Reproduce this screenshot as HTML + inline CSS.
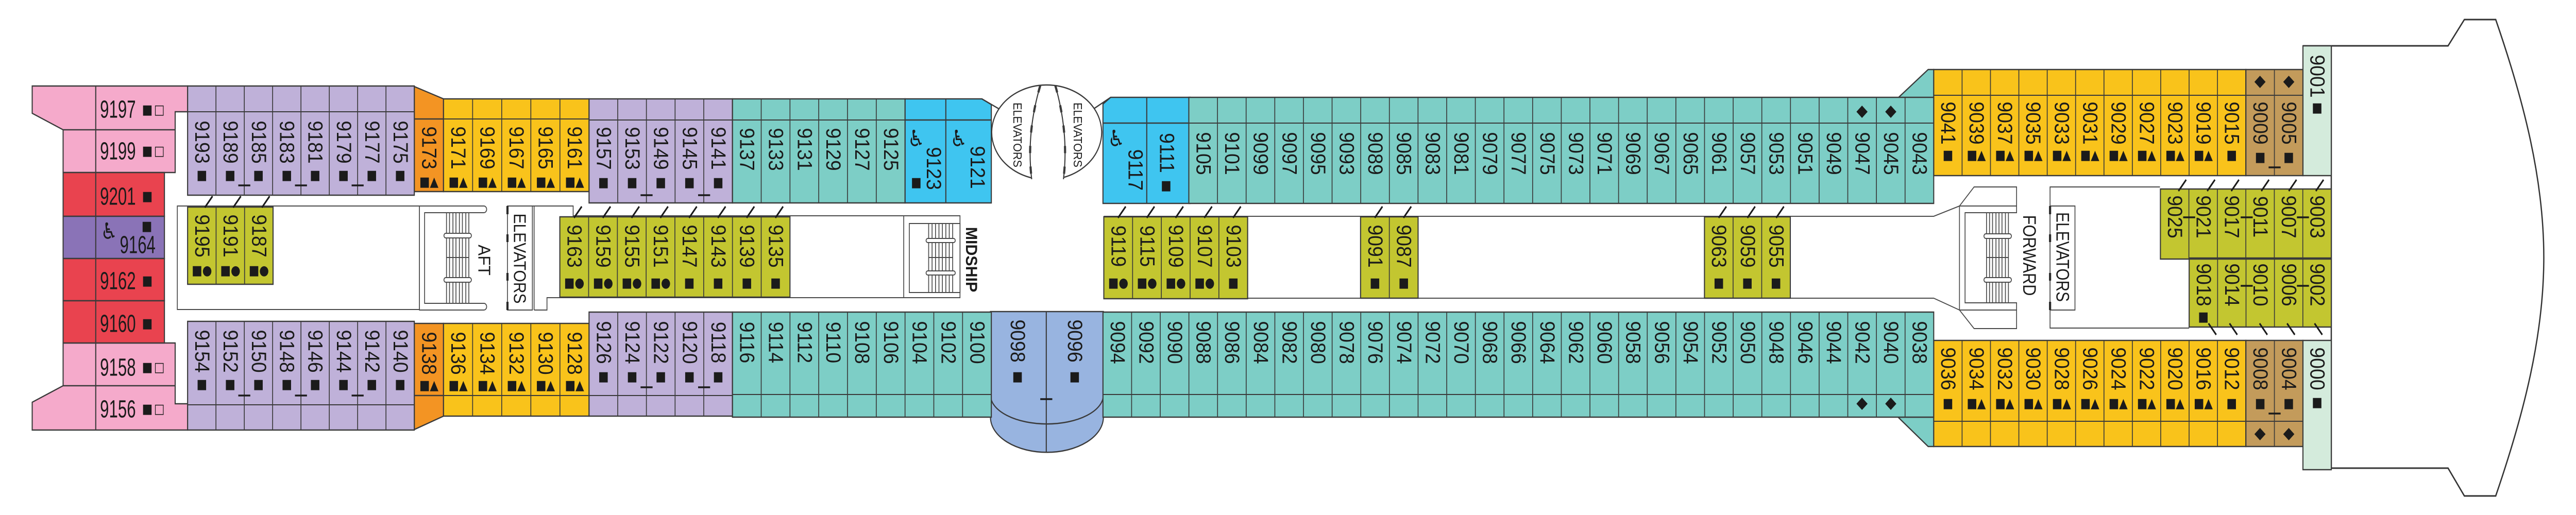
<!DOCTYPE html>
<html><head><meta charset="utf-8"><style>
html,body{margin:0;padding:0;width:100%;height:100%;overflow:hidden;background:#fff}
svg{display:block;width:100%;height:100%}
text{font-family:"Liberation Sans",Arial,sans-serif;fill:#1b1b1b}
.n text{font-size:48px;text-anchor:middle;dominant-baseline:central}
.s text,text.s{font-family:"DejaVu Sans",sans-serif;font-size:26px;text-anchor:middle;dominant-baseline:central}
.h text{font-size:48px;dominant-baseline:central}
text.c{text-anchor:middle;dominant-baseline:central}
</style></head><body>
<svg xmlns="http://www.w3.org/2000/svg" viewBox="0 0 6000 1000" preserveAspectRatio="none">
<rect x="0" y="0" width="6000" height="1000" fill="#fff"/>
<!-- stern, orange, blue, ellipse, periwinkle, chamfers -->
<g stroke="#3a3a3a" stroke-width="2.5">
<polygon points="75,167 437,167 437,217 408,217 408,335 147,335 147,252 75,220" fill="#F5AACB"/>
<polygon points="147,666 408,666 408,784 437,784 437,835 75,835 75,781 147,749" fill="#F5AACB"/>
<rect x="147" y="335" width="236" height="85" fill="#E9434F"/>
<rect x="147" y="420" width="236" height="82" fill="#8A73B7"/>
<rect x="147" y="502" width="236" height="82" fill="#E9434F"/>
<rect x="147" y="584" width="236" height="82" fill="#E9434F"/>
<path d="M223,167V835M147,252H408M147,749H408" fill="none"/>
<polygon points="965,168 1033,192 1033,372 965,372" fill="#F39423"/>
<polygon points="965,628 1033,628 1033,808 965,834" fill="#F39423"/>
<path d="M965,231H1033M965,768H1033" fill="none"/>
<polygon points="2108,192 2287,192 2309,203 2309,394 2108,394" fill="#3FC5F0"/>
<polygon points="2569,202 2587,189 2772,189 2772,395 2569,395" fill="#3FC5F0"/>
<path d="M2203,192V394M2108,233H2309M2671,189V395M2569,239H2772M2287,192L2328,212M2587,189L2548,211" fill="none"/>
<path d="M2403,345.5A128,92 0 1 1 2477,344.6" fill="#fff"/>
<path d="M2423,166Q2390,260 2403,348M2458,166Q2490,260 2477,348" fill="none"/>
<path d="M2423,166Q2390,260 2403,348M2458,166Q2490,260 2477,348" fill="none" stroke-width="5" stroke-dasharray="14 26"/>
<path d="M2307,605H2570V810A131,68 0 0 1 2307,810Z" fill="#98B4E0"/>
<path d="M2307,767A131,56 0 0 0 2570,767M2437,605V878" fill="none"/>
<polygon points="4421,190 4491,135 4504,135 4504,190" fill="#7DCEC6"/>
<polygon points="4421,810 4491,867 4504,867 4504,810" fill="#7DCEC6"/>
</g>
<!-- corridors, stairs, lobbies -->
<g stroke="#4a4a4a" stroke-width="2" fill="none">
<rect x="413" y="400" width="564" height="201"/>
<path d="M977,400H1127A6.5,6.5 0 0 1 1127,413H989V589H1127A6.5,6.5 0 0 1 1127,602H977Z"/>
<path d="M1040,413V589M1047,413V589M1055,413V589M1062,413V589M1070,413V589M1077,413V589M1085,413V589M1092,413V589M1040,500H1092"/>
<rect x="1034" y="453" width="64" height="9" rx="4.5" fill="#fff"/>
<rect x="1034" y="539" width="64" height="9" rx="4.5" fill="#fff"/>
<rect x="1182" y="400" width="58" height="202"/>
<path d="M1244,400V602M1240,400H1335V419H2105M1244,602H1274V578H2105"/>
<rect x="2105" y="419" width="131" height="159"/>
<rect x="2118" y="434" width="118" height="134"/>
<path d="M2163,434V568M2171,434V568M2179,434V568M2187,434V568M2195,434V568M2203,434V568M2211,434V568M2219,434V568M2163,500H2219"/>
<rect x="2157" y="463" width="68" height="8" rx="4" fill="#fff"/>
<rect x="2157" y="526" width="68" height="8" rx="4" fill="#fff"/>
<path d="M2571,420H4504L4564,400M2571,579H4504L4564,602"/>
<path d="M4564,400L4598,363H4697V413H4577V588H4697V638H4598L4564,602ZM4564,400H4697M4564,602H4697"/>
<path d="M4627,413V588M4634,413V588M4641,413V588M4649,413V588M4656,413V588M4663,413V588M4671,413V588M4678,413V588M4627,500H4678"/>
<rect x="4621" y="454" width="64" height="9" rx="4.5" fill="#fff"/>
<rect x="4621" y="539" width="64" height="9" rx="4.5" fill="#fff"/>
<path d="M5031,363H4775V637H5099"/>
<rect x="4775" y="400" width="58" height="202"/>
</g>
<path d="M1182,400V416M1182,586V602M4775,400V416M4775,586V602M1182,455V470M1182,530V545M4775,455V470M4775,530V545" stroke="#2a2a2a" stroke-width="5" fill="none"/>
<path d="M5364,89H5702L5740,38H5813C5880,200 5925,350 5925,500C5925,650 5880,800 5813,963H5740L5702,909H5364M5430,89V909" fill="none" stroke="#333" stroke-width="3"/>

<!-- block fills -->
<g stroke="none">
<rect x="437" y="167" width="528" height="212" fill="#BFB1D9"/>
<rect x="437" y="624" width="528" height="211" fill="#BFB1D9"/>
<rect x="1033" y="192" width="339" height="180" fill="#F9C31B"/>
<rect x="1033" y="628" width="339" height="180" fill="#F9C31B"/>
<rect x="1372" y="192" width="334" height="202" fill="#BFB1D9"/>
<rect x="1372" y="606" width="334" height="202" fill="#BFB1D9"/>
<rect x="1706" y="192" width="402" height="202" fill="#7DCEC6"/>
<rect x="1706" y="606" width="603" height="204" fill="#7DCEC6"/>
<rect x="2769" y="189" width="1735" height="206" fill="#7DCEC6"/>
<rect x="2569" y="606" width="1935" height="204" fill="#7DCEC6"/>
<rect x="4504" y="135" width="727" height="206" fill="#F9C31B"/>
<rect x="5231" y="135" width="133" height="206" fill="#C39B5B"/>
<rect x="5364" y="89" width="66" height="252" fill="#D4EBDC"/>
<rect x="4504" y="661" width="727" height="206" fill="#F9C31B"/>
<rect x="5231" y="661" width="133" height="206" fill="#C39B5B"/>
<rect x="5364" y="661" width="66" height="251" fill="#D4EBDC"/>
<g fill="#C3C630">
<rect x="437" y="402" width="199" height="150"/>
<rect x="1304" y="421" width="536" height="156"/>
<rect x="2571" y="421" width="335" height="159"/>
<rect x="3169" y="421" width="134" height="158"/>
<rect x="3970" y="421" width="200" height="158"/>
<rect x="5032" y="367" width="398" height="136"/>
<rect x="5099" y="501" width="331" height="134"/>
</g>
</g>
<!-- cell dividers (dashed thick lines = vertical bars) -->
<g stroke="#3a3a3a" fill="none">
<line x1="436" y1="273" x2="965" y2="273" stroke-width="212" stroke-dasharray="2 64"/>
<line x1="436" y1="729.5" x2="965" y2="729.5" stroke-width="211" stroke-dasharray="2 64"/>
<line x1="1032" y1="282" x2="1372" y2="282" stroke-width="180" stroke-dasharray="2 65.8"/>
<line x1="1032" y1="718" x2="1372" y2="718" stroke-width="180" stroke-dasharray="2 65.8"/>
<line x1="1371" y1="293" x2="1706" y2="293" stroke-width="202" stroke-dasharray="2 64.8"/>
<line x1="1371" y1="707" x2="1706" y2="707" stroke-width="202" stroke-dasharray="2 64.8"/>
<line x1="1705" y1="293" x2="2108" y2="293" stroke-width="202" stroke-dasharray="2 65"/>
<line x1="1705" y1="708" x2="2309" y2="708" stroke-width="204" stroke-dasharray="2 65"/>
<line x1="2768" y1="292" x2="4504" y2="292" stroke-width="206" stroke-dasharray="2 64.731"/>
<line x1="2568" y1="708" x2="4504" y2="708" stroke-width="204" stroke-dasharray="2 64.724"/>
<line x1="4503" y1="238" x2="5231" y2="238" stroke-width="206" stroke-dasharray="2 64.09"/>
<line x1="4503" y1="764" x2="5231" y2="764" stroke-width="206" stroke-dasharray="2 64.09"/>
<line x1="5230" y1="238" x2="5364" y2="238" stroke-width="206" stroke-dasharray="2 64.5"/>
<line x1="5230" y1="764" x2="5364" y2="764" stroke-width="206" stroke-dasharray="2 64.5"/>
<line x1="436" y1="477" x2="636" y2="477" stroke-width="150" stroke-dasharray="2 64.33"/>
<line x1="1303" y1="499" x2="1840" y2="499" stroke-width="156" stroke-dasharray="2 65"/>
<line x1="2570" y1="500.5" x2="2906" y2="500.5" stroke-width="159" stroke-dasharray="2 65"/>
<line x1="3168" y1="500" x2="3303" y2="500" stroke-width="158" stroke-dasharray="2 65"/>
<line x1="3969" y1="500" x2="4170" y2="500" stroke-width="158" stroke-dasharray="2 64.67"/>
<line x1="5031" y1="435" x2="5430" y2="435" stroke-width="136" stroke-dasharray="2 64.33"/>
<line x1="5098" y1="568" x2="5430" y2="568" stroke-width="134" stroke-dasharray="2 64.2"/>
<path stroke-width="2" d="M437,217H965M437,786H965M1033,231H1372M1033,768H1372M1372,233H1706M1372,768H1706M1706,233H2108M1706,766H2309M2769,239H4504M2569,766H4504M4504,185H5364M4504,818H5364"/>
</g>
<!-- block outlines -->
<g stroke="#3a3a3a" stroke-width="2.5" fill="none">
<rect x="437" y="167" width="528" height="212"/>
<rect x="437" y="624" width="528" height="211"/>
<rect x="1033" y="192" width="339" height="180"/>
<rect x="1033" y="628" width="339" height="180"/>
<rect x="1372" y="192" width="334" height="202"/>
<rect x="1372" y="606" width="334" height="202"/>
<rect x="1706" y="192" width="402" height="202"/>
<rect x="1706" y="606" width="603" height="204"/>
<rect x="2769" y="189" width="1735" height="206"/>
<rect x="2569" y="606" width="1935" height="204"/>
<rect x="4504" y="135" width="727" height="206"/>
<rect x="5231" y="135" width="133" height="206"/>
<rect x="5364" y="89" width="66" height="252"/>
<rect x="4504" y="661" width="727" height="206"/>
<rect x="5231" y="661" width="133" height="206"/>
<rect x="5364" y="661" width="66" height="251"/>
<rect x="437" y="402" width="199" height="150"/>
<rect x="1304" y="421" width="536" height="156"/>
<rect x="2571" y="421" width="335" height="159"/>
<rect x="3169" y="421" width="134" height="158"/>
<rect x="3970" y="421" width="200" height="158"/>
<rect x="5032" y="367" width="398" height="136"/>
<rect x="5099" y="501" width="331" height="134"/>
</g>

<!-- marks -->
<g stroke="#1b1b1b" stroke-width="3.5" fill="none">
<path d="M555,360h28M687,360h28M819,360h28M555,768h28M687,768h28M819,768h28M1492,379h28M1626,379h28M1492,752h28M1626,752h28M5284,325h28M5284,803h28M2423,775h28M5085,422h28M5219,422h28M5350,422h28M5219,555h28M5350,555h28"/>
<path d="M477,403l18,-22M543,403l18,-22M610,403l18,-22M1337,423l18,-22M1404,423l18,-22M1471,423l18,-22M1538,423l18,-22M1605,423l18,-22M1672,423l18,-22M1739,423l18,-22M1806,423l18,-22M2604,423l18,-22M2671,423l18,-22M2738,423l18,-22M2805,423l18,-22M2872,423l18,-22M3202,423l18,-22M3269,423l18,-22M4003,423l18,-22M4070,423l18,-22M4137,423l18,-22M5074,371l18,-22M5141,371l18,-22M5197,371l18,-22M5267,371l18,-22M5331,371l18,-22M5394,371l18,-22M5144,628l18,22M5193,628l18,22M5263,628l18,22M5327,628l18,22M5391,628l18,22"/>
</g>
<path fill="#1b1b1b" d="M4324,217l13,-12l13,12l-13,12zM4391,217l13,-12l13,12l-13,12zM4324,784l13,-12l13,12l-13,12zM4391,784l13,-12l13,12l-13,12zM5251,159l13,-12l13,12l-13,12zM5318,159l13,-12l13,12l-13,12zM5251,843l13,-12l13,12l-13,12zM5318,843l13,-12l13,12l-13,12z"/>

<!-- stern labels -->
<g class="h">
<text transform="translate(233,212) scale(.78,1)">9197</text>
<text transform="translate(233,293) scale(.78,1)">9199</text>
<text transform="translate(233,381) scale(.78,1)">9201</text>
<text transform="translate(279,475) scale(.78,1)">9164</text>
<text transform="translate(233,545) scale(.78,1)">9162</text>
<text transform="translate(233,628) scale(.78,1)">9160</text>
<text transform="translate(233,713) scale(.78,1)">9158</text>
<text transform="translate(233,794) scale(.78,1)">9156</text>
</g>
<g class="s">
<text x="343" y="213">■</text><text x="371" y="213">□</text>
<text x="343" y="293">■</text><text x="371" y="293">□</text>
<text x="343" y="381">■</text>
<text x="342" y="439">■</text>
<text x="343" y="545">■</text>
<text x="343" y="628">■</text>
<text x="343" y="713">■</text><text x="371" y="713">□</text>
<text x="343" y="794">■</text><text x="371" y="794">□</text>
<text x="254" y="449" style="font-size:44px">♿</text>
<text x="2134" y="269" style="font-size:44px">♿</text>
<text x="2233" y="269" style="font-size:44px">♿</text>
<text x="2600" y="269" style="font-size:44px">♿</text>
<text x="2134" y="354">■</text>
<text x="2716" y="360">■</text>
<text x="2370" y="731">■</text>
<text x="2503" y="731">■</text>
<text x="999" y="353">■▲</text>
<text x="999" y="748">■▲</text>
<text x="5397" y="209">■</text>
<text x="5397" y="781">■</text>
<text x="5132" y="615">■</text>
</g>

<!-- free rotated numbers -->
<g class="n">
<text transform="translate(999,287) rotate(90) scale(.78,1)">9173</text>
<text transform="translate(999,686) rotate(90) scale(.78,1)">9138</text>
<text transform="translate(2174,327) rotate(90) scale(.78,1)">9123</text>
<text transform="translate(2276,325) rotate(90) scale(.78,1)">9121</text>
<text transform="translate(2644,330) rotate(90) scale(.78,1)">9117</text>
<text transform="translate(2717,297) rotate(90) scale(.78,1)">9111</text>
<text transform="translate(2370,662) rotate(90) scale(.78,1)">9098</text>
<text transform="translate(2503,662) rotate(90) scale(.78,1)">9096</text>
<text transform="translate(5397,148) rotate(90) scale(.78,1)">9001</text>
<text transform="translate(5397,716) rotate(90) scale(.78,1)">9000</text>
</g>

<!-- captions -->
<text class="c" font-size="28" transform="translate(2370,262) rotate(90) scale(.77,1)">ELEVATORS</text>
<text class="c" font-size="28" transform="translate(2510,262) rotate(90) scale(.77,1)">ELEVATORS</text>
<text class="c" font-size="40" transform="translate(1211,502) rotate(90) scale(.75,1)">ELEVATORS</text>
<text class="c" font-size="40" transform="translate(1128,505) rotate(90) scale(.79,1)">AFT</text>
<text class="c" font-size="38" font-weight="bold" transform="translate(2263,504) rotate(90) scale(.8,1)">MIDSHIP</text>
<text class="c" font-size="42" transform="translate(4727,496) rotate(90) scale(.73,1)">FORWARD</text>
<text class="c" font-size="42" transform="translate(4804,499) rotate(90) scale(.71,1)">ELEVATORS</text>

<!-- A lavender left top -->
<g class="n" transform="translate(470,276) rotate(90) scale(.78,1)">
<text y="0">9193</text><text y="-66">9189</text><text y="-132">9185</text><text y="-198">9183</text><text y="-264">9181</text><text y="-330">9179</text><text y="-396">9177</text><text y="-462">9175</text></g>
<g class="s" transform="translate(470,340)"><text x="0">■</text><text x="66">■</text><text x="132">■</text><text x="198">■</text><text x="264">■</text><text x="330">■</text><text x="396">■</text><text x="462">■</text></g>
<!-- B lavender left bottom -->
<g class="n" transform="translate(470,682) rotate(90) scale(.78,1)">
<text y="0">9154</text><text y="-66">9152</text><text y="-132">9150</text><text y="-198">9148</text><text y="-264">9146</text><text y="-330">9144</text><text y="-396">9142</text><text y="-462">9140</text></g>
<g class="s" transform="translate(470,746)"><text x="0">■</text><text x="66">■</text><text x="132">■</text><text x="198">■</text><text x="264">■</text><text x="330">■</text><text x="396">■</text><text x="462">■</text></g>
<!-- E yellow aft top -->
<g class="n" transform="translate(1066.9,287) rotate(90) scale(.78,1)">
<text y="0">9171</text><text y="-67.8">9169</text><text y="-135.6">9167</text><text y="-203.4">9165</text><text y="-271.2">9161</text></g>
<g class="s" transform="translate(1066.9,353)"><text x="0">■▲</text><text x="67.8">■▲</text><text x="135.6">■▲</text><text x="203.4">■▲</text><text x="271.2">■▲</text></g>
<!-- F yellow aft bottom -->
<g class="n" transform="translate(1066.9,686) rotate(90) scale(.78,1)">
<text y="0">9136</text><text y="-67.8">9134</text><text y="-135.6">9132</text><text y="-203.4">9130</text><text y="-271.2">9128</text></g>
<g class="s" transform="translate(1066.9,748)"><text x="0">■▲</text><text x="67.8">■▲</text><text x="135.6">■▲</text><text x="203.4">■▲</text><text x="271.2">■▲</text></g>
<!-- G lavender mid top -->
<g class="n" transform="translate(1405.4,288) rotate(90) scale(.78,1)">
<text y="0">9157</text><text y="-66.8">9153</text><text y="-133.6">9149</text><text y="-200.4">9145</text><text y="-267.2">9141</text></g>
<g class="s" transform="translate(1405.4,354)"><text x="0">■</text><text x="66.8">■</text><text x="133.6">■</text><text x="200.4">■</text><text x="267.2">■</text></g>
<!-- H lavender mid bottom -->
<g class="n" transform="translate(1405.4,665) rotate(90) scale(.78,1)">
<text y="0">9126</text><text y="-66.8">9124</text><text y="-133.6">9122</text><text y="-200.4">9120</text><text y="-267.2">9118</text></g>
<g class="s" transform="translate(1405.4,731)"><text x="0">■</text><text x="66.8">■</text><text x="133.6">■</text><text x="200.4">■</text><text x="267.2">■</text></g>
<!-- I teal top A -->
<g class="n" transform="translate(1739.5,290) rotate(90) scale(.78,1)">
<text y="0">9137</text><text y="-67">9133</text><text y="-134">9131</text><text y="-201">9129</text><text y="-268">9127</text><text y="-335">9125</text></g>
<!-- J teal bottom A -->
<g class="n" transform="translate(1739.5,665) rotate(90) scale(.78,1)">
<text y="0">9116</text><text y="-67">9114</text><text y="-134">9112</text><text y="-201">9110</text><text y="-268">9108</text><text y="-335">9106</text><text y="-402">9104</text><text y="-469">9102</text><text y="-536">9100</text></g>
<!-- N teal top B -->
<g class="n" transform="translate(2802.4,298) rotate(90) scale(.78,1)">
<text y="0">9105</text><text y="-66.7">9101</text><text y="-133.5">9099</text><text y="-200.2">9097</text><text y="-266.9">9095</text><text y="-333.7">9093</text><text y="-400.4">9089</text><text y="-467.1">9085</text><text y="-533.8">9083</text><text y="-600.6">9081</text><text y="-667.3">9079</text><text y="-734">9077</text><text y="-800.8">9075</text><text y="-867.5">9073</text><text y="-934.2">9071</text><text y="-1001">9069</text><text y="-1067.7">9067</text><text y="-1134.4">9065</text><text y="-1201.2">9061</text><text y="-1267.9">9057</text><text y="-1334.6">9053</text><text y="-1401.4">9051</text><text y="-1468.1">9049</text><text y="-1534.8">9047</text><text y="-1601.5">9045</text><text y="-1668.3">9043</text></g>
<!-- O teal bottom B -->
<g class="n" transform="translate(2602.4,665) rotate(90) scale(.78,1)">
<text y="0">9094</text><text y="-66.7">9092</text><text y="-133.4">9090</text><text y="-200.2">9088</text><text y="-266.9">9086</text><text y="-333.6">9084</text><text y="-400.3">9082</text><text y="-467.1">9080</text><text y="-533.8">9078</text><text y="-600.5">9076</text><text y="-667.2">9074</text><text y="-734">9072</text><text y="-800.7">9070</text><text y="-867.4">9068</text><text y="-934.1">9066</text><text y="-1000.9">9064</text><text y="-1067.6">9062</text><text y="-1134.3">9060</text><text y="-1201">9058</text><text y="-1267.8">9056</text><text y="-1334.5">9054</text><text y="-1401.2">9052</text><text y="-1467.9">9050</text><text y="-1534.7">9048</text><text y="-1601.4">9046</text><text y="-1668.1">9044</text><text y="-1734.8">9042</text><text y="-1801.5">9040</text><text y="-1868.3">9038</text></g>
<!-- Q yellow fwd top -->
<g class="n" transform="translate(4537,239) rotate(90) scale(.78,1)">
<text y="0">9041</text><text y="-66.1">9039</text><text y="-132.2">9037</text><text y="-198.3">9035</text><text y="-264.4">9033</text><text y="-330.5">9031</text><text y="-396.5">9029</text><text y="-462.6">9027</text><text y="-528.7">9023</text><text y="-594.8">9019</text><text y="-660.9">9015</text></g>
<g class="s" transform="translate(4537,301)"><text x="0">■</text><text x="66.1">■▲</text><text x="132.2">■▲</text><text x="198.3">■▲</text><text x="264.4">■▲</text><text x="330.5">■▲</text><text x="396.5">■▲</text><text x="462.6">■▲</text><text x="528.7">■▲</text><text x="594.8">■▲</text><text x="660.9">■</text></g>
<!-- T yellow fwd bottom -->
<g class="n" transform="translate(4537,716) rotate(90) scale(.78,1)">
<text y="0">9036</text><text y="-66.1">9034</text><text y="-132.2">9032</text><text y="-198.3">9030</text><text y="-264.4">9028</text><text y="-330.5">9026</text><text y="-396.5">9024</text><text y="-462.6">9022</text><text y="-528.7">9020</text><text y="-594.8">9016</text><text y="-660.9">9012</text></g>
<g class="s" transform="translate(4537,783)"><text x="0">■</text><text x="66.1">■▲</text><text x="132.2">■▲</text><text x="198.3">■▲</text><text x="264.4">■▲</text><text x="330.5">■▲</text><text x="396.5">■▲</text><text x="462.6">■▲</text><text x="528.7">■▲</text><text x="594.8">■▲</text><text x="660.9">■</text></g>
<!-- R / U brown -->
<g class="n" transform="translate(5264.3,239) rotate(90) scale(.78,1)"><text y="0">9009</text><text y="-66.5">9005</text></g>
<g class="s" transform="translate(5264.3,305)"><text x="0">■</text><text x="66.5">■</text></g>
<g class="n" transform="translate(5264.3,716) rotate(90) scale(.78,1)"><text y="0">9008</text><text y="-66.5">9004</text></g>
<g class="s" transform="translate(5264.3,783)"><text x="0">■</text><text x="66.5">■</text></g>
<!-- interiors -->
<g class="n" transform="translate(470.2,458) rotate(90) scale(.78,1)"><text y="0">9195</text><text y="-66.3">9191</text><text y="-132.7">9187</text></g>
<g class="s" transform="translate(470.2,525)"><text x="0">■●</text><text x="66.3">■●</text><text x="132.7">■●</text></g>
<g class="n" transform="translate(1337.5,478) rotate(90) scale(.78,1)"><text y="0">9163</text><text y="-67">9159</text><text y="-134">9155</text><text y="-201">9151</text><text y="-268">9147</text><text y="-335">9143</text><text y="-402">9139</text><text y="-469">9135</text></g>
<g class="s" transform="translate(1337.5,549)"><text x="0">■●</text><text x="67">■●</text><text x="134">■●</text><text x="201">■●</text><text x="268">■</text><text x="335">■</text><text x="402">■</text><text x="469">■</text></g>
<g class="n" transform="translate(2604.5,478) rotate(90) scale(.78,1)"><text y="0">9119</text><text y="-67">9115</text><text y="-134">9109</text><text y="-201">9107</text><text y="-268">9103</text></g>
<g class="s" transform="translate(2604.5,549)"><text x="0">■●</text><text x="67">■●</text><text x="134">■●</text><text x="201">■●</text><text x="268">■</text></g>
<g class="n" transform="translate(3202.5,478) rotate(90) scale(.78,1)"><text y="0">9091</text><text y="-67">9087</text></g>
<g class="s" transform="translate(3202.5,549)"><text x="0">■</text><text x="67">■</text></g>
<g class="n" transform="translate(4003.3,478) rotate(90) scale(.78,1)"><text y="0">9063</text><text y="-66.7">9059</text><text y="-133.3">9055</text></g>
<g class="s" transform="translate(4003.3,549)"><text x="0">■</text><text x="66.7">■</text><text x="133.3">■</text></g>
<g class="n" transform="translate(5065.2,421) rotate(90) scale(.78,1)"><text y="0">9025</text><text y="-66.3">9021</text><text y="-132.7">9017</text><text y="-199">9011</text><text y="-265.3">9007</text><text y="-331.7">9003</text></g>
<g class="n" transform="translate(5132.1,553) rotate(90) scale(.78,1)"><text y="0">9018</text><text y="-66.2">9014</text><text y="-132.4">9010</text><text y="-198.6">9006</text><text y="-264.8">9002</text></g>
</svg>
</body></html>
